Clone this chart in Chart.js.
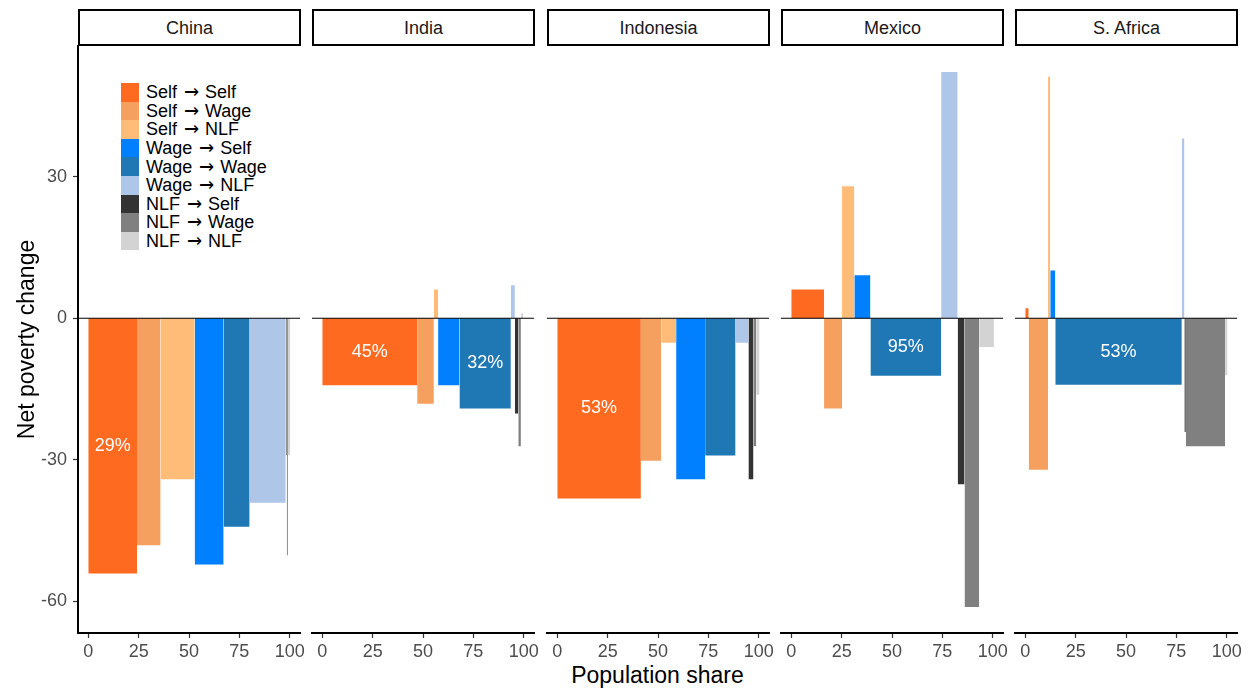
<!DOCTYPE html>
<html>
<head>
<meta charset="utf-8">
<script src="https://cdn.jsdelivr.net/npm/chart.js@4.4.1/dist/chart.umd.min.js"></script>
<style>
  @font-face { font-family: "ArrowGlyph"; src: local("DejaVu Sans"); unicode-range: U+2190-21FF; }
  html, body { margin: 0; padding: 0; background: #fff; }
  body { width: 1252px; height: 692px; position: relative; overflow: hidden;
         font-family: "Liberation Sans", Arial, sans-serif; }
  .strip { position: absolute; top: 9px; height: 37px; box-sizing: border-box;
           border: 2px solid #000; background: #fff; font-size: 18px; color: #1a1a1a;
           display: flex; align-items: center; justify-content: center; padding-top: 1px; }
  canvas.panel { position: absolute; }
  #xTitle { position: absolute; left: 78px; width: 1159px; top: 662px; text-align: center;
            font-size: 23px; color: #000; }
  #legend { position: absolute; left: 121px; top: 83px; font-size: 18px; color: #000;
            word-spacing: 1.5px;
            font-family: "ArrowGlyph", "Liberation Sans", Arial, sans-serif; }
  .key { display: flex; align-items: center; height: 18.6px; white-space: nowrap; }
  .key .sw { width: 18px; height: 18.6px; margin-right: 7px; }
</style>
</head>
<body>
<div id="xTitle">Population share</div>
<div id="legend"></div>

<script>
// ── data ──────────────────────────────────────────────────────
const countries   = ['China', 'India', 'Indonesia', 'Mexico', 'S. Africa'];
const transitions = ['Self → Self', 'Self → Wage', 'Self → NLF',
                     'Wage → Self', 'Wage → Wage', 'Wage → NLF',
                     'NLF → Self', 'NLF → Wage', 'NLF → NLF'];

// population share of each transition (bar width, %)
const chinaShare     = [24.2, 11.7, 16.9, 14.4, 12.9, 17.9, 0.5, 0.6, 1.2];
const indiaShare     = [47.1, 8.3, 2.1, 10.6, 25.5, 2.0, 1.7, 1.3, 1.2];
const indonesiaShare = [41.5, 10.1, 7.4, 14.4, 15.1, 6.4, 2.5, 1.4, 1.6];
const mexicoShare    = [16.3, 8.9, 6.1, 8.0, 35.1, 8.2, 3.4, 7.3, 7.3];
const safricaShare   = [1.7, 9.6, 1.1, 2.5, 62.8, 1.3, 0.7, 19.5, 1.2];

// net poverty change (bar height)
const chinaChange     = [-54.1, -48.1, -34.1, -52.2, -44.2, -39.1, -29.0, -50.2, -29.0];
const indiaChange     = [-14.2, -18.1, 6.1, -14.2, -19.1, 7.0, -20.2, -27.1, 1.0];
const indonesiaChange = [-38.2, -30.2, -5.2, -34.1, -29.1, -5.2, -34.1, -27.1, -16.2];
const mexicoChange    = [6.1, -19.1, 28.0, 9.1, -12.2, 52.2, -35.2, -61.2, -6.1];
const safricaChange   = [2.1, -32.1, 51.2, 10.1, -14.1, 38.1, -24.1, -27.1, -12.1];

// percentage labels written inside bars: [country, transition, text]
const pctLabels = [
  ['China', 'Self → Self', '29%'],
  ['India', 'Self → Self', '45%'],
  ['India', 'Wage → Wage', '32%'],
  ['Indonesia', 'Self → Self', '53%'],
  ['Mexico', 'Wage → Wage', '95%'],
  ['S. Africa', 'Wage → Wage', '53%']
];

const xTicks = [0, 25, 50, 75, 100];
const yTicks = [-60, -30, 0, 30];

// ── styles / layout ───────────────────────────────────────────
const colors = ['#fe6a1f', '#f6a05f', '#ffbb78',
                '#0080ff', '#1f77b4', '#aec7e8',
                '#333333', '#808080', '#d3d3d3'];
const FONT = '"Liberation Sans", Arial, sans-serif';
const PANEL_LEFT = [78, 312, 547, 781, 1015];
const PANEL_TOP = 46, PANEL_W = 222, PANEL_H = 587, AXIS_H = 45;
const PAD = 14, PAD_TOP = 20, YAXIS_W = 78;
const X_MIN = -5.1, X_MAX = 105.1, Y_MIN = -66.7, Y_MAX = 57.7;

const shares  = [chinaShare, indiaShare, indonesiaShare, mexicoShare, safricaShare];
const changes = [chinaChange, indiaChange, indonesiaChange, mexicoChange, safricaChange];

Chart.defaults.font.family = FONT;

function barDatasets(share, change) {
  let left = 0;
  return transitions.map((t, i) => {
    const x0 = left, x1 = left + share[i];
    left = x1;
    return {
      label: t,
      data: [{ x: x0, y: 0 }, { x: x0, y: change[i] }, { x: x1, y: change[i] }, { x: x1, y: 0 }],
      backgroundColor: colors[i],
      borderColor: 'rgba(0,0,0,0)',
      borderWidth: 0,
      fill: 'origin',
      pointRadius: 0, pointHoverRadius: 0,
      tension: 0
    };
  });
}

// zero reference line + white percent labels
const zeroAndLabels = {
  id: 'zeroAndLabels',
  afterDatasetsDraw(chart, args, opts) {
    const { ctx, chartArea, scales: { x, y } } = chart;
    ctx.save();
    const y0 = y.getPixelForValue(0);
    ctx.strokeStyle = '#000';
    ctx.lineWidth = 1.1;
    ctx.beginPath();
    ctx.moveTo(chartArea.left, y0);
    ctx.lineTo(chartArea.right, y0);
    ctx.stroke();

    ctx.fillStyle = '#fff';
    ctx.font = '18px ' + FONT;
    ctx.textAlign = 'center';
    ctx.textBaseline = 'middle';
    (opts.labels || []).forEach(([, transition, text]) => {
      const ds = chart.data.datasets.find(d => d.label === transition);
      if (!ds) return;
      const cx = (ds.data[0].x + ds.data[2].x) / 2;
      const cy = ds.data[1].y / 2;
      ctx.fillText(text, x.getPixelForValue(cx), y.getPixelForValue(cy));
    });
    ctx.restore();
  }
};

countries.forEach((country, idx) => {
  const first = idx === 0;

  const strip = document.createElement('div');
  strip.className = 'strip';
  strip.style.left = PANEL_LEFT[idx] + 'px';
  strip.style.width = (PANEL_W + 1) + 'px';
  strip.textContent = country;
  document.body.appendChild(strip);

  const canvas = document.createElement('canvas');
  canvas.className = 'panel';
  const leftExtra = first ? YAXIS_W : PAD;
  canvas.width = leftExtra + PANEL_W + PAD;
  canvas.height = PAD_TOP + PANEL_H + AXIS_H;
  canvas.style.left = (PANEL_LEFT[idx] - leftExtra) + 'px';
  canvas.style.top = (PANEL_TOP - PAD_TOP) + 'px';
  document.body.appendChild(canvas);

  const yScale = {
    type: 'linear', min: Y_MIN, max: Y_MAX, display: first,
    afterBuildTicks: axis => { axis.ticks = yTicks.map(v => ({ value: v })); },
    grid: { display: true, drawOnChartArea: false, drawTicks: true, tickLength: 5,
            tickColor: '#333', tickWidth: 1.2 },
    border: { display: true, color: '#000', width: 2 },
    ticks: { padding: 6, color: '#4d4d4d', font: { size: 18 } },
    title: { display: true, text: 'Net poverty change', color: '#000',
             font: { size: 23 }, padding: { top: 14, bottom: 0 } }
  };
  if (first) yScale.afterFit = axis => { axis.width = YAXIS_W; };

  new Chart(canvas, {
    type: 'line',
    data: { datasets: barDatasets(shares[idx], changes[idx]) },
    plugins: [zeroAndLabels],
    options: {
      responsive: false, animation: false, events: [],
      layout: { padding: { left: first ? 0 : PAD, right: PAD, top: PAD_TOP, bottom: 0 } },
      plugins: {
        legend: { display: false }, tooltip: { enabled: false },
        zeroAndLabels: { labels: pctLabels.filter(l => l[0] === country) }
      },
      scales: {
        x: {
          type: 'linear', min: X_MIN, max: X_MAX,
          afterBuildTicks: axis => { axis.ticks = xTicks.map(v => ({ value: v })); },
          afterFit: axis => { axis.height = AXIS_H; },
          grid: { display: true, drawOnChartArea: false, drawTicks: true, tickLength: 5,
                  tickColor: '#333', tickWidth: 1.2 },
          border: { display: true, color: '#000', width: 2 },
          ticks: { autoSkip: false, maxRotation: 0, padding: 3, color: '#4d4d4d',
                   font: { size: 18 } }
        },
        y: yScale
      }
    }
  });
});

// legend (inside first panel)
const legend = document.getElementById('legend');
transitions.forEach((t, i) => {
  const row = document.createElement('div');
  row.className = 'key';
  const sw = document.createElement('span');
  sw.className = 'sw';
  sw.style.background = colors[i];
  const txt = document.createElement('span');
  txt.textContent = t;
  row.appendChild(sw);
  row.appendChild(txt);
  legend.appendChild(row);
});
</script>
</body>
</html>
